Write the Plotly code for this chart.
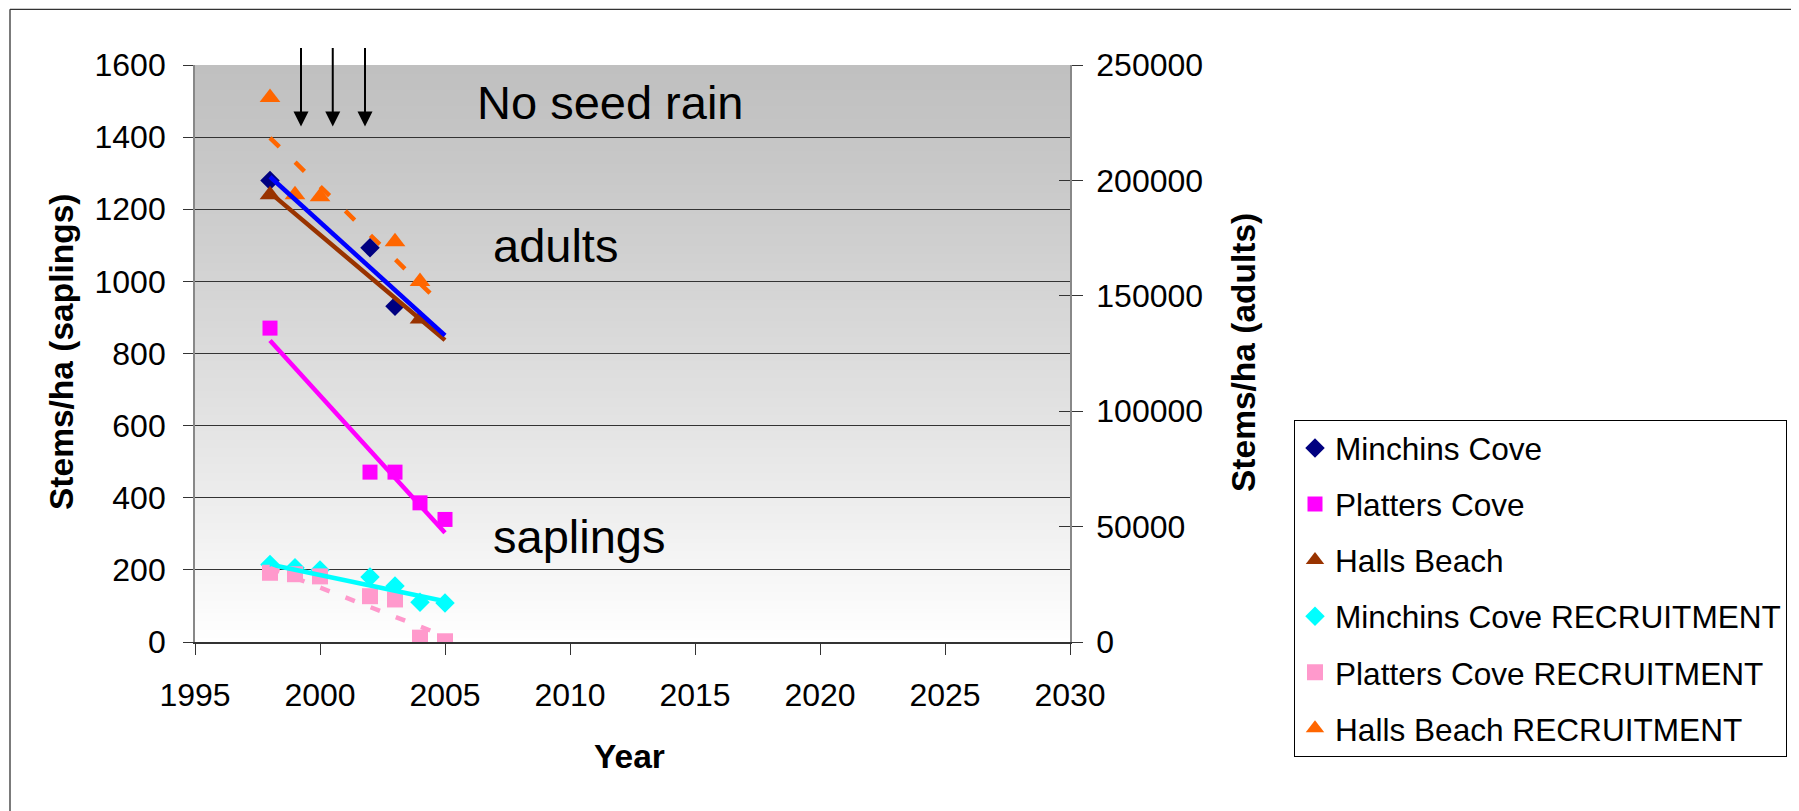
import plotly.graph_objects as go

# ---------------- data ----------------
# Adult densities (right axis, stems/ha)
minchins_years = [1998, 2002, 2003]
minchins_adults = [200000, 170800, 145500]
platters_years = [1998, 2002, 2003, 2004, 2005]
platters_adults = [136000, 73600, 73600, 60300, 53100]
halls_years = [1998, 2004]
halls_adults = [193750, 140000]

# Sapling recruitment (left axis, stems/ha)
minchins_rec_years = [1998, 1999, 2000, 2002, 2003, 2004, 2005]
minchins_rec = [215, 206, 200, 180, 155, 110, 108]
platters_rec_years = [1998, 1999, 2000, 2002, 2003, 2004, 2005]
platters_rec = [192, 188, 182, 127, 118, 12, 2]
halls_rec_years = [1998, 1999, 2000, 2003, 2004]
halls_rec = [1510, 1240, 1235, 1110, 1000]

# Linear trend lines (end points)
trend_years = [1998, 2005]
minchins_trend = [201600, 132800]
platters_trend = [130600, 47300]
halls_trend = [194700, 130800]
minchins_rec_trend = [215, 113]
platters_rec_trend = [205, 16]
halls_rec_trend = [1398, 927]

# Seed-rain event arrows (years)
arrow_years = [1999.24, 2000.51, 2001.8]

x_ticks = [1995, 2000, 2005, 2010, 2015, 2020, 2025, 2030]
y_ticks = [0, 200, 400, 600, 800, 1000, 1200, 1400, 1600]
y2_ticks = [0, 50000, 100000, 150000, 200000, 250000]

# ---------------- layout helpers ----------------
FONT = "Liberation Sans, Arial, sans-serif"
W, H = 1799, 811
OFF = 8  # page body margin
# plot-area edges in page pixels
PL, PR, PT, PB = 195, 1070, 64.5, 642.5
L, R, T, B = PL - OFF, PR - OFF, PT - OFF, PB - OFF


def px_x(p):
    return (p - PL) / (PR - PL)


def px_y(p):
    return (PB - p) / (PB - PT)


fig = go.Figure()

# markers
fig.add_trace(go.Scatter(x=minchins_years, y=minchins_adults, yaxis="y2", mode="markers",
                         name="Minchins Cove", legendgroup="g1",
                         marker=dict(symbol="diamond", size=15, color="#000080", line=dict(width=0))))
fig.add_trace(go.Scatter(x=platters_years, y=platters_adults, yaxis="y2", mode="markers",
                         name="Platters Cove", legendgroup="g2",
                         marker=dict(symbol="square", size=15, color="#FF00FF", line=dict(width=0))))
fig.add_trace(go.Scatter(x=halls_years, y=halls_adults, yaxis="y2", mode="markers",
                         name="Halls Beach", legendgroup="g3",
                         marker=dict(symbol="triangle-up", size=18, color="#993300", line=dict(width=0))))
fig.add_trace(go.Scatter(x=minchins_rec_years, y=minchins_rec, yaxis="y", mode="markers",
                         name="Minchins Cove RECRUITMENT", legendgroup="g4",
                         marker=dict(symbol="diamond", size=15, color="#00FFFF", line=dict(width=0))))
fig.add_trace(go.Scatter(x=platters_rec_years, y=platters_rec, yaxis="y", mode="markers",
                         name="Platters Cove RECRUITMENT", legendgroup="g5",
                         marker=dict(symbol="square", size=16, color="#FF99CC", line=dict(width=0))))
fig.add_trace(go.Scatter(x=halls_rec_years, y=halls_rec, yaxis="y", mode="markers",
                         name="Halls Beach RECRUITMENT", legendgroup="g6",
                         marker=dict(symbol="triangle-up", size=18, color="#FF6600", line=dict(width=0))))

# trend lines
fig.add_trace(go.Scatter(x=trend_years, y=minchins_rec_trend, yaxis="y", mode="lines",
                         showlegend=False, legendgroup="g4", hoverinfo="skip",
                         line=dict(color="#00FFFF", width=4.5)))
fig.add_trace(go.Scatter(x=trend_years, y=platters_rec_trend, yaxis="y", mode="lines",
                         showlegend=False, legendgroup="g5", hoverinfo="skip",
                         line=dict(color="#FF99CC", width=4.5, dash="10px,17px")))
fig.add_trace(go.Scatter(x=trend_years, y=halls_rec_trend, yaxis="y", mode="lines",
                         showlegend=False, legendgroup="g6", hoverinfo="skip",
                         line=dict(color="#FF6600", width=4.5, dash="13px,22px")))
fig.add_trace(go.Scatter(x=trend_years, y=platters_trend, yaxis="y2", mode="lines",
                         showlegend=False, legendgroup="g2", hoverinfo="skip",
                         line=dict(color="#FF00FF", width=4.5)))
fig.add_trace(go.Scatter(x=trend_years, y=halls_trend, yaxis="y2", mode="lines",
                         showlegend=False, legendgroup="g3", hoverinfo="skip",
                         line=dict(color="#993300", width=4.5)))
fig.add_trace(go.Scatter(x=trend_years, y=minchins_trend, yaxis="y2", mode="lines",
                         showlegend=False, legendgroup="g1", hoverinfo="skip",
                         line=dict(color="#0000FF", width=4.5)))
# empty trace to host the inner tick marks of the right axis
fig.add_trace(go.Scatter(x=[], y=[], yaxis="y3", showlegend=False, hoverinfo="skip"))

# ---------------- background gradient and border ----------------
shapes = []
n = 140
for i in range(n):
    tm = (i + 0.5) / n
    v = round(192 + 63 * tm ** 1.2)
    shapes.append(dict(type="rect", xref="paper", yref="paper",
                       x0=0, x1=1, y0=1 - (i + 1) / n - 0.002, y1=1 - i / n,
                       fillcolor=f"rgb({v},{v},{v})", line=dict(width=0), layer="below"))
# chart-area frame: only its left and top edges fall inside the picture
shapes.append(dict(type="line", xref="paper", yref="paper",
                   x0=px_x(10), x1=px_x(1850), y0=px_y(8.7), y1=px_y(8.7),
                   line=dict(color="#333333", width=1.3), layer="above"))
shapes.append(dict(type="line", xref="paper", yref="paper",
                   x0=px_x(10), x1=px_x(10), y0=px_y(8.7), y1=px_y(860),
                   line=dict(color="#333333", width=1.3), layer="above"))

# ---------------- annotations ----------------
annotations = [
    dict(text="No seed rain", xref="paper", yref="paper", x=px_x(475), y=px_y(102),
         xanchor="left", yanchor="middle", showarrow=False, font=dict(size=47, color="black", family=FONT)),
    dict(text="adults", xref="paper", yref="paper", x=px_x(491), y=px_y(245),
         xanchor="left", yanchor="middle", showarrow=False, font=dict(size=47, color="black", family=FONT)),
    dict(text="saplings", xref="paper", yref="paper", x=px_x(491), y=px_y(537),
         xanchor="left", yanchor="middle", showarrow=False, font=dict(size=47, color="black", family=FONT)),
    dict(text="<b>Stems/ha (saplings)</b>", xref="paper", yref="paper", x=px_x(61.5), y=px_y(352.5),
         xanchor="center", yanchor="middle", textangle=-90, showarrow=False,
         font=dict(size=33.5, color="black", family=FONT)),
    dict(text="<b>Stems/ha (adults)</b>", xref="paper", yref="paper", x=px_x(1243.5), y=px_y(352.5),
         xanchor="center", yanchor="middle", textangle=-90, showarrow=False,
         font=dict(size=33.5, color="black", family=FONT)),
    dict(text="<b>Year</b>", xref="paper", yref="paper", x=px_x(629), y=px_y(757),
         xanchor="center", yanchor="middle", showarrow=False,
         font=dict(size=33.5, color="black", family=FONT)),
]
for yr in arrow_years:
    annotations.append(dict(text="", x=yr, xref="x", y=px_y(126), yref="paper",
                            ax=0, ay=-80, axref="pixel", ayref="pixel", showarrow=True,
                            arrowhead=2, arrowsize=1.5, arrowwidth=2, arrowcolor="black",
                            standoff=0, startstandoff=0))

fig.update_layout(
    width=W, height=H,
    margin=dict(l=L, r=W - R, t=T, b=H - B, autoexpand=False),
    paper_bgcolor="white", plot_bgcolor="rgba(0,0,0,0)",
    font=dict(family=FONT, color="black", size=32),
    showlegend=True,
    legend=dict(x=px_x(1294), y=px_y(420), xanchor="left", yanchor="top",
                bordercolor="#000000", borderwidth=1, bgcolor="white",
                font=dict(size=31.6, color="black", family=FONT),
                tracegroupgap=12, itemclick=False, itemdoubleclick=False),
    xaxis=dict(range=[1995, 2030], tickvals=x_ticks, ticks="outside", ticklen=11, tickwidth=1.3,
               tickcolor="#333333", showline=True, linecolor="#333333", linewidth=1.5,
               showgrid=False, zeroline=False, ticklabelstandoff=13,
               tickfont=dict(size=32, color="black", family=FONT)),
    yaxis=dict(range=[0, 1600], tickvals=y_ticks, ticks="outside", ticklen=10, tickwidth=1.3,
               tickcolor="#333333", showline=True, linecolor="#888888", linewidth=1.8,
               showgrid=True, gridcolor="#333333", gridwidth=1, zeroline=False,
               ticklabelstandoff=11, tickfont=dict(size=32, color="black", family=FONT)),
    yaxis2=dict(range=[0, 250000], tickvals=y2_ticks, tickformat="d", overlaying="y", side="right",
                anchor="x", ticks="outside", ticklen=11, tickwidth=1.3, tickcolor="#333333",
                showline=True, linecolor="#888888", linewidth=1.8, showgrid=False, zeroline=False,
                ticklabelstandoff=7, tickfont=dict(size=32, color="black", family=FONT)),
    yaxis3=dict(range=[0, 250000], tickvals=y2_ticks, overlaying="y", side="right", anchor="x",
                ticks="inside", ticklen=11, tickwidth=1.3, tickcolor="#333333",
                showline=False, showgrid=False, zeroline=False, showticklabels=False),
    shapes=shapes,
    annotations=annotations,
)

fig.write_html("out.html")
